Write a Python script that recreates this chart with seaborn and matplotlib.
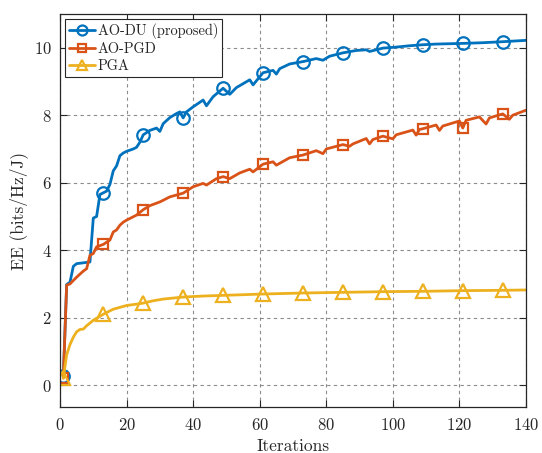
import numpy as np
import pandas as pd
import matplotlib
matplotlib.use("Agg")
import matplotlib.pyplot as plt
import seaborn as sns

# ---- data ----
du_x = [1, 2, 3, 4, 5, 9, 10, 11, 12, 13, 14, 15, 16, 17, 18, 19, 20, 22, 23, 24, 25,
        27, 29, 30, 31, 33, 35, 36, 37, 38, 40, 43, 44, 46, 49, 51, 53, 57, 58, 61,
        64, 65, 66, 69, 73, 77, 79, 81, 85, 89, 92, 93, 97, 101, 105, 109, 113,
        121, 127, 133, 140]
du_y = [0.28, 2.98, 3.05, 3.52, 3.60, 3.65, 4.95, 5.00, 5.65, 5.70, 5.75, 5.95, 6.35,
        6.50, 6.80, 6.88, 6.93, 7.00, 7.05, 7.20, 7.42, 7.55, 7.62, 7.52, 7.75, 7.93,
        8.05, 8.10, 7.92, 8.10, 8.25, 8.45, 8.28, 8.55, 8.80, 8.62, 8.82, 9.05, 8.90,
        9.26, 9.33, 9.22, 9.38, 9.52, 9.59, 9.68, 9.63, 9.75, 9.85, 9.92, 9.94, 9.89,
        9.99, 10.02, 10.06, 10.09, 10.11, 10.13, 10.15, 10.18, 10.22]

pgd_x = [1, 2, 3, 5, 7, 8, 9, 10, 11, 13, 15, 16, 17, 18, 19, 20, 23, 25, 27, 30, 33,
         37, 40, 43, 44, 47, 49, 51, 54, 57, 58, 61, 64, 65, 69, 73, 77, 79, 80, 85,
         87, 88, 92, 93, 94, 97, 100, 101, 106, 107, 108, 109, 113, 114, 115, 120,
         121, 122, 126, 128, 129, 133, 135, 136, 140]
pgd_y = [0.22, 2.96, 3.00, 3.20, 3.38, 3.45, 3.85, 3.90, 4.10, 4.17, 4.30, 4.54, 4.60,
         4.74, 4.83, 4.89, 5.04, 5.20, 5.32, 5.43, 5.58, 5.69, 5.88, 5.98, 5.93, 6.12,
         6.18, 6.12, 6.29, 6.40, 6.32, 6.55, 6.62, 6.52, 6.74, 6.82, 6.95, 6.86, 7.00,
         7.13, 7.08, 7.15, 7.31, 7.15, 7.28, 7.38, 7.30, 7.42, 7.56, 7.41, 7.58, 7.60,
         7.71, 7.55, 7.68, 7.83, 7.62, 7.85, 7.95, 7.74, 7.92, 8.04, 7.88, 8.00, 8.15]

pga_x = [1, 2, 3, 4, 5, 6, 7, 8, 9, 10, 11, 13, 16, 20, 23, 25, 28, 31, 37, 43, 49,
         55, 61, 73, 85, 97, 109, 121, 133, 140]
pga_y = [0.20, 0.90, 1.20, 1.42, 1.58, 1.65, 1.66, 1.76, 1.84, 1.92, 1.98, 2.10, 2.25,
         2.36, 2.40, 2.43, 2.50, 2.55, 2.61, 2.64, 2.66, 2.68, 2.70, 2.73, 2.75, 2.77,
         2.78, 2.80, 2.81, 2.82]

marker_iters = [1, 13, 25, 37, 49, 61, 73, 85, 97, 109, 121, 133]
labels = ["AO-DU (proposed)", "AO-PGD", "PGA"]
colors = ["#0072BD", "#D95319", "#EDB120"]
markers = ["o", "s", "^"]
x_ticks = [0, 20, 40, 60, 80, 100, 120, 140]
y_ticks = [0, 2, 4, 6, 8, 10]

# ---- style ----
sns.set_style("ticks")
plt.rcParams["font.family"] = ["cmr10", "DejaVu Serif"]
plt.rcParams["mathtext.fontset"] = "cm"
plt.rcParams["axes.formatter.use_mathtext"] = True
plt.rcParams["axes.unicode_minus"] = False

fig = plt.figure(figsize=(5.42, 4.53), dpi=100)
ax = fig.add_axes([0.1107, 0.1015, 0.8598, 0.8675])

series = [(du_x, du_y), (pgd_x, pgd_y), (pga_x, pga_y)]
msizes = [9, 7.5, 9.5]
for (xs, ys), lab, c, m, ms in zip(series, labels, colors, markers, msizes):
    df = pd.DataFrame({"Iterations": xs, "EE": ys})
    idx = [i for i, v in enumerate(xs) if v in marker_iters]
    sns.lineplot(data=df, x="Iterations", y="EE", ax=ax, color=c, label=lab,
                 linewidth=2.0, marker=m, markevery=idx, markersize=ms,
                 markerfacecolor="none", markeredgecolor=c, markeredgewidth=1.6,
                 estimator=None, sort=False)

ax.set_xlim(0, 140)
ax.set_ylim(-0.65, 11.0)
ax.set_xticks(x_ticks)
ax.set_yticks(y_ticks)
ax.tick_params(axis="both", direction="in", length=5, width=0.8, labelsize=12,
               top=True, right=True, colors="#262626", labelcolor="#262626")
ax.tick_params(axis="x", pad=7.5)
ax.tick_params(axis="y", pad=6)
ax.grid(True, linestyle=(0, (3, 3)), color="#808080", linewidth=0.8, alpha=0.9)
for s in ax.spines.values():
    s.set_color("#262626")
    s.set_linewidth(0.9)
ax.set_xlabel("Iterations", fontsize=12.5, labelpad=3.5)
ax.set_ylabel("EE (bits/Hz/J)", fontsize=12.5, labelpad=4)

leg = ax.legend(loc="upper left", fontsize=10.4, frameon=True, fancybox=False,
                edgecolor="#262626", framealpha=1, borderpad=0.3, handlelength=1.8,
                handletextpad=0.15, labelspacing=0.2, borderaxespad=0.35,
                markerscale=0.8)
leg.get_frame().set_linewidth(0.8)

fig.savefig("out.png", dpi=100)
